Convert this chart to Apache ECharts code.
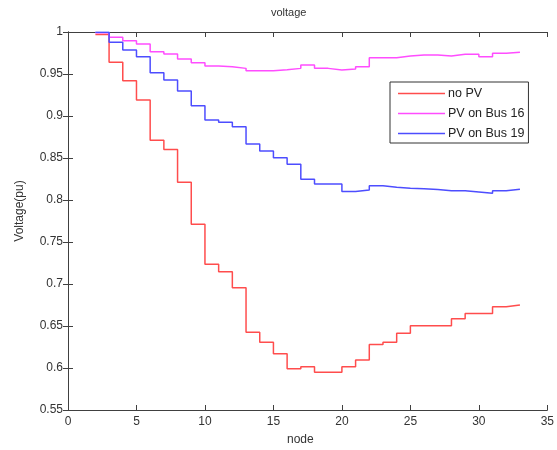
<!DOCTYPE html>
<html>
<head>
<meta charset="utf-8">
<script src="https://cdn.jsdelivr.net/npm/echarts@6/dist/echarts.min.js"></script>
<style>html,body{margin:0;padding:0;background:#fff;}#c{width:557px;height:450px;}</style>
</head>
<body>
<div id="c"></div>
<script>
const nodes = [2,3,4,5,6,7,8,9,10,11,12,13,14,15,16,17,18,19,20,21,22,23,24,25,26,27,28,29,30,31,32,33];
const noPV = [0.997,0.964,0.942,0.919,0.871,0.860,0.821,0.771,0.7235,0.7147,0.6956,0.6425,0.6306,0.617,0.599,0.6016,0.595,0.595,0.6016,0.6095,0.628,0.6306,0.6413,0.6504,0.6504,0.6504,0.6587,0.665,0.665,0.673,0.675,0.675];
const pvBus16 = [0.999,0.9937,0.9897,0.9857,0.9766,0.9738,0.9679,0.9635,0.9595,0.9587,0.9567,0.954,0.954,0.955,0.9567,0.9607,0.9567,0.9548,0.956,0.9587,0.9694,0.9694,0.9714,0.9726,0.9726,0.9714,0.9734,0.9734,0.9706,0.9746,0.976,0.976];
const pvBus19 = [0.9996,0.9877,0.9786,0.9706,0.9516,0.9429,0.9298,0.9123,0.8952,0.8925,0.8873,0.8667,0.8583,0.8504,0.8425,0.8247,0.819,0.819,0.810,0.8119,0.817,0.8151,0.814,0.8135,0.8125,0.811,0.811,0.8095,0.808,0.811,0.8127,0.8127];
const seriesNames = ['no PV','PV on Bus 16','PV on Bus 19'];
const colors = ['#ff4d4d','#ff4dff','#4d4dff'];

const pairs = arr => nodes.map((x,i)=>[x,arr[i]]);
const axisColor = '#404040';
const font = 'Liberation Sans, Arial, sans-serif';
const fmtY = v => parseFloat(v.toFixed(2)).toString();

const chart = echarts.init(document.getElementById('c'), null, {renderer:'canvas'});
const baseX = {type:'value', min:0, max:35, interval:5, splitLine:{show:false},
  axisLine:{lineStyle:{color:axisColor,width:1}}, axisTick:{inside:true,length:5,lineStyle:{color:axisColor}}};
const baseY = {type:'value', min:0.55, max:1, interval:0.05, splitLine:{show:false},
  axisLine:{lineStyle:{color:axisColor,width:1}}, axisTick:{inside:true,length:5,lineStyle:{color:axisColor}}};
chart.setOption({
  animation:false,
  backgroundColor:'#fff',
  grid:{left:68,right:9,top:32,bottom:40},
  xAxis:[
    Object.assign({}, baseX, {position:'bottom', axisLabel:{color:'#333',fontSize:12,fontFamily:font,margin:6}}),
    Object.assign({}, baseX, {position:'top', axisLabel:{show:false}})
  ],
  yAxis:[
    Object.assign({}, baseY, {position:'left', axisLabel:{color:'#333',fontSize:12,fontFamily:font,margin:5,formatter:fmtY}}),
    Object.assign({}, baseY, {position:'right', axisLabel:{show:false}})
  ],
  legend:{
    orient:'vertical', left:390, top:82, width:137,
    backgroundColor:'#fff', borderColor:'#333', borderWidth:1, borderRadius:0,
    padding:[5,4,3,8], itemGap:7, itemWidth:47, itemHeight:1.5,
    icon:'rect',
    textStyle:{color:'#222',fontSize:12.5,fontFamily:font,padding:[0,0,0,-2]},
    data:seriesNames.map((n,i)=>({name:n, icon:'rect', itemStyle:{color:colors[i], borderWidth:0}}))
  },
  graphic:[
    {type:'text', left:291-20, top:7, style:{text:'voltage', font:'11px '+font, fill:'#333'}},
    {type:'text', left:287, top:434, style:{text:'node', font:'12px '+font, fill:'#333'}},
    {type:'text', x:20, y:211, rotation:Math.PI/2, style:{text:'Voltage(pu)', font:'12px '+font, fill:'#333', align:'center', verticalAlign:'middle'}}
  ],
  series:[
    {name:seriesNames[0], type:'line', step:'end', symbol:'none', data:pairs(noPV), lineStyle:{color:colors[0],width:1.5}, itemStyle:{color:colors[0]}},
    {name:seriesNames[1], type:'line', step:'end', symbol:'none', data:pairs(pvBus16), lineStyle:{color:colors[1],width:1.5}, itemStyle:{color:colors[1]}},
    {name:seriesNames[2], type:'line', step:'end', symbol:'none', data:pairs(pvBus19), lineStyle:{color:colors[2],width:1.5}, itemStyle:{color:colors[2]}}
  ]
});
</script>
</body>
</html>
